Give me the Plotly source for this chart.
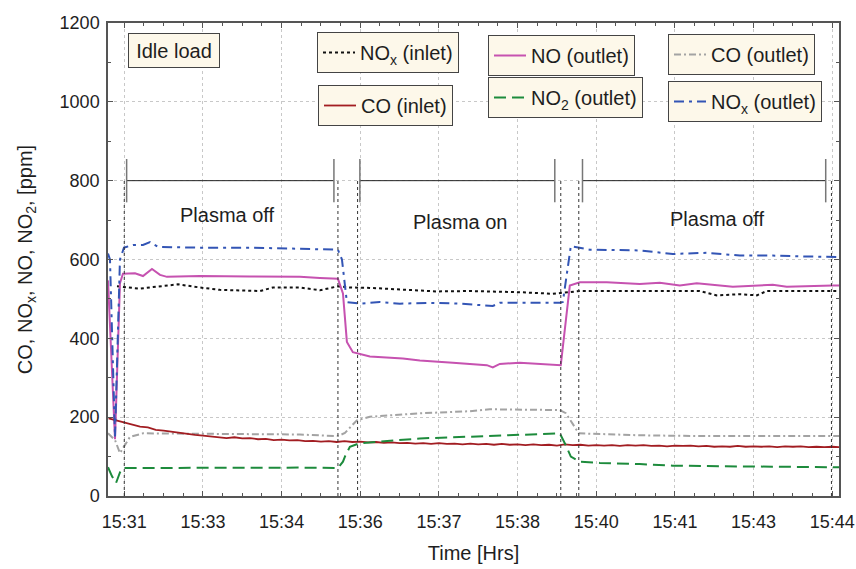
import numpy as np
import plotly.graph_objects as go

# ---------------- data (x in tick-index units: 0 -> 15:31 ... 9 -> 15:44) ----------------
TICK_LABELS = ["15:31", "15:33", "15:34", "15:36", "15:37", "15:38", "15:40", "15:41", "15:43", "15:44"]

NOX_IN_T = [-0.093, 0.200, 0.366, 0.682, 0.962, 1.216, 1.724, 1.890, 2.233, 2.487, 2.716, 2.868,
            3.122, 3.758, 3.974, 4.393, 5.028, 5.448, 5.791, 6.045, 6.808, 7.316, 7.532, 7.825,
            8.041, 8.168, 9.095]
NOX_IN = [532, 526, 530, 537, 529, 523, 520, 529, 529, 522, 532, 529,
          528, 521, 519, 520, 517, 513, 520, 520, 520, 520, 509, 512,
          509, 520, 520]

NO_OUT_T = [-0.207, -0.118, -0.055, -0.017, 0.136, 0.238, 0.352, 0.454, 0.543, 0.962, 1.597, 2.233,
            2.487, 2.716, 2.780, 2.830, 2.906, 3.122, 3.542, 3.758, 4.177, 4.609, 4.685, 4.774,
            5.028, 5.448, 5.549, 5.664, 5.791, 6.134, 6.553, 6.808, 7.062, 7.278, 7.736, 8.244,
            8.422, 9.006, 9.095]
NO_OUT = [547, 144, 540, 564, 565, 558, 576, 561, 556, 558, 557, 556,
          553, 551, 514, 391, 365, 354, 349, 344, 338, 332, 326, 335,
          338, 332, 332, 534, 542, 542, 538, 541, 534, 540, 531, 536,
          531, 534, 534]

CO_OUT_T = [-0.207, -0.118, -0.055, 0.072, 0.238, 0.962, 1.597, 2.233, 2.716, 2.805, 2.957, 3.122,
            3.758, 4.393, 4.647, 5.282, 5.537, 5.613, 5.778, 6.553, 7.316, 9.095]
CO_OUT = [159, 142, 109, 150, 159, 158, 157, 156, 152, 160, 192, 201,
          210, 215, 220, 218, 218, 210, 159, 154, 152, 152]

CO_IN_T0 = -0.2
CO_IN_DT = 0.1
CO_IN = [197, 192, 186, 181, 176, 174, 168, 166, 163, 160, 158, 155, 153, 151, 150, 147, 149, 146,
         147, 144, 145, 142, 143, 141, 142, 139, 140, 138, 139, 137, 139, 137, 138, 136, 137, 135,
         136, 134, 135, 133, 134, 132, 134, 132, 133, 131, 133, 131, 132, 130, 132, 130, 131, 129,
         131, 129, 130, 128, 131, 129, 130, 128, 129, 128, 129, 127, 129, 128, 129, 127, 128, 126,
         128, 127, 128, 126, 127, 125, 126, 125, 127, 125, 126, 125, 126, 124, 126, 125, 126, 124,
         125, 124, 125, 124]

NO2_OUT_T = [-0.207, -0.156, -0.105, -0.055, -0.017, 0.962, 2.233, 2.716, 2.780, 2.805, 2.868, 2.995,
             3.338, 3.758, 4.609, 5.537, 5.600, 5.677, 5.791, 6.045, 6.553, 6.973, 7.825, 9.006, 9.095]
NO2_OUT = [73, 50, 33, 60, 71, 72, 72, 71, 87, 100, 125, 134,
           140, 146, 152, 159, 134, 100, 87, 84, 81, 77, 75, 73, 73]

NOX_OUT_T = [-0.207, -0.182, -0.118, -0.080, -0.055, -0.004, 0.111, 0.238, 0.327, 0.428, 0.581, 0.962,
             1.597, 2.233, 2.614, 2.716, 2.767, 2.830, 2.995, 3.249, 3.504, 3.885, 4.266, 4.685,
             4.774, 5.155, 5.537, 5.575, 5.677, 5.918, 6.553, 6.973, 7.405, 7.825, 8.244, 8.587,
             9.006, 9.095]
NOX_OUT = [615, 600, 150, 400, 600, 630, 637, 637, 644, 632, 631, 630,
           630, 628, 625, 625, 600, 492, 488, 492, 488, 490, 488, 482,
           490, 490, 490, 492, 634, 625, 623, 614, 617, 610, 610, 608,
           606, 606]

SEPARATORS = [0.0, 2.716, 2.966, 5.549, 5.778, 8.99]
BRACKETS = [(0.03, 2.665), (2.995, 5.473), (5.825, 8.917)]
PHASE_LABELS = [("Plasma off", 1.318, 712), ("Plasma on", 4.27, 695), ("Plasma off", 7.54, 702)]

# ---------------- figure ----------------
FONT = "Liberation Sans, Arial, sans-serif"
TXT = "#1e1e1e"
CREAM = "#fdf8ea"

fig = go.Figure()

series = [
    (NOX_IN_T, NOX_IN, "NO<sub>x</sub> (inlet)", "#111111", "3px,3px", 2.0, "legend"),
    (NO_OUT_T, NO_OUT, "NO (outlet)", "#c652b0", "solid", 2.0, "legend2"),
    (CO_OUT_T, CO_OUT, "CO (outlet)", "#a3a3a3", "7px,3px,2px,3px", 2.0, "legend3"),
    (None, CO_IN, "CO (inlet)", "#a21d22", "solid", 1.8, "legend4"),
    (NO2_OUT_T, NO2_OUT, "NO<sub>2</sub> (outlet)", "#1d8b3c", "12px,6px", 2.0, "legend5"),
    (NOX_OUT_T, NOX_OUT, "NO<sub>x</sub> (outlet)", "#3355b5", "10px,5px,3px,5px", 2.0, "legend6"),
]

for t, v, name, col, dash, w, lg in series:
    if t is None:
        t = CO_IN_T0 + CO_IN_DT * np.arange(len(v))
    fig.add_trace(go.Scatter(x=t, y=v, mode="lines", name=name,
                             line=dict(color=col, dash=dash, width=w),
                             legend=lg, showlegend=True))

# plot area on screen: left 108, right 839, top 23, bottom 496
W, H = 856, 569
L, R, T, B = 108, 17, 23, 73
PW, PH = W - L - R, H - T - B

def px2paper(px, py):
    return (px - L) / PW, (H - B - py) / PH

leg_common = dict(bgcolor=CREAM, bordercolor="#444444", borderwidth=1,
                  font=dict(family=FONT, size=20, color=TXT),
                  xanchor="left", yanchor="top", itemwidth=32, tracegroupgap=0)
leg_pos = {"legend": (317, 32), "legend2": (488, 35), "legend3": (668, 34),
           "legend4": (318, 85), "legend5": (488, 77), "legend6": (668, 81)}
leg_layout = {}
for k, (px, py) in leg_pos.items():
    x, y = px2paper(px, py)
    leg_layout[k] = dict(leg_common, x=x, y=y)

shapes = []
for s in SEPARATORS:
    shapes.append(dict(type="line", xref="x", yref="y", x0=s, x1=s, y0=0, y1=800,
                       line=dict(color="#333333", width=1, dash="dot")))
for a, b in BRACKETS:
    shapes.append(dict(type="line", xref="x", yref="y", x0=a, x1=b, y0=800, y1=800,
                       line=dict(color="#222222", width=1)))
    for e in (a, b):
        shapes.append(dict(type="line", xref="x", yref="y", x0=e, x1=e, y0=745, y1=855,
                           line=dict(color="#777777", width=1.5)))

annotations = []
for txt, x, y in PHASE_LABELS:
    annotations.append(dict(text=txt, x=x, y=y, xref="x", yref="y", showarrow=False,
                            font=dict(family=FONT, size=20, color=TXT)))
ix, iy = px2paper(128, 33)
annotations.append(dict(text="Idle load", x=ix, y=iy, xref="paper", yref="paper",
                        xanchor="left", yanchor="top", showarrow=False,
                        font=dict(family=FONT, size=20, color=TXT),
                        bgcolor=CREAM, bordercolor="#444444", borderwidth=1, borderpad=4,
                        width=82, height=25))

axis_common = dict(showline=True, linecolor="#555555", linewidth=1.5, mirror="allticks",
                   ticks="inside", ticklen=5, tickcolor="#555555", tickwidth=1,
                   showgrid=True, gridcolor="#c8c8c8", griddash="dot", gridwidth=1,
                   zeroline=False, automargin=False,
                   tickfont=dict(family=FONT, size=18, color=TXT),
                   title_font=dict(family=FONT, size=20, color=TXT))

fig.update_layout(
    width=W, height=H, autosize=False,
    margin=dict(l=L, r=R, t=T, b=B, autoexpand=False),
    paper_bgcolor="white", plot_bgcolor="white",
    font=dict(family=FONT, color=TXT),
    shapes=shapes, annotations=annotations,
    xaxis=dict(axis_common, range=[-0.207, 9.086], tickmode="array",
               tickvals=list(range(len(TICK_LABELS))), ticktext=TICK_LABELS,
               minor=dict(ticks="inside", dtick=0.25, tick0=0, ticklen=3, tickcolor="#555555",
                          showgrid=False),
               ticklabelstandoff=9,
               title=dict(text="Time [Hrs]", standoff=15)),
    yaxis=dict(axis_common, range=[0, 1200], tickmode="linear", tick0=0, dtick=200,
               minor=dict(ticks="inside", dtick=100, ticklen=3, tickcolor="#555555",
                          showgrid=False),
               ticklabelstandoff=3,
               title=dict(text="CO, NO<sub>x</sub>, NO, NO<sub>2</sub>, [ppm]", standoff=22)),
    **leg_layout,
)

# remove the default 8px page margin so the figure sits at the window origin
fig.write_html("out.html", config={"displayModeBar": False},
               post_script="document.body.style.margin='0';document.body.style.overflow='hidden';")
